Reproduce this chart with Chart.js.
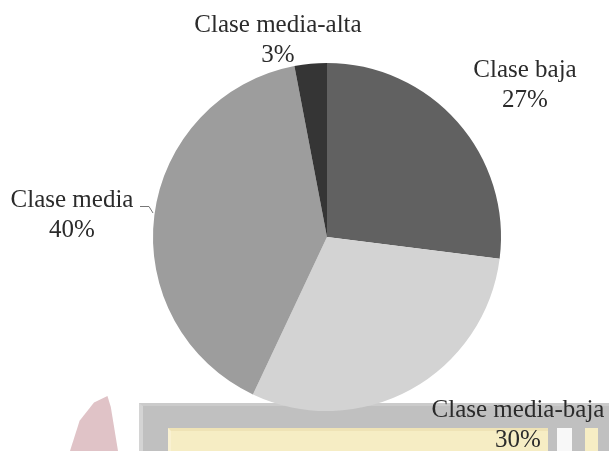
<!DOCTYPE html>
<html>
<head>
<meta charset="utf-8">
<script src="https://cdn.jsdelivr.net/npm/chart.js@4"></script>
<style>
  html, body { margin: 0; padding: 0; background: #fff; }
  #wrap { position: relative; width: 609px; height: 451px; overflow: hidden; }
  #wrap canvas { position: absolute; left: 0; top: 0; }
  .bg { position: absolute; }
</style>
</head>
<body>
<div id="wrap">
  <!-- scan artefacts under the pie -->
  <div class="bg" style="left:70px;top:396px;width:48px;height:55px;background:#e0c3c7;clip-path:polygon(0 100%,20% 45%,50% 12%,78% 0,85% 20%,100% 100%)"></div>
  <div class="bg" style="left:139px;top:403px;width:470px;height:48px;background:#c0c0c0;border-left:4px solid #d4d4d4;border-top:3px solid #cbcbcb;box-sizing:border-box"></div>
  <div class="bg" style="left:168px;top:428px;width:380px;height:23px;background:#f6edc4;border-left:3px solid #f9f1d2;border-top:3px solid #efe3b6;box-sizing:border-box"></div>
  <div class="bg" style="left:557px;top:428px;width:15px;height:23px;background:#f8f8f8"></div>
  <div class="bg" style="left:585px;top:428px;width:13px;height:23px;background:#f6edc4"></div>
  <canvas id="pie" width="609" height="451"></canvas>
</div>
<script>
const categories = ['Clase baja', 'Clase media-baja', 'Clase media', 'Clase media-alta'];
const shares = [27, 30, 40, 3];
const sliceColors = ['#616161', '#d3d3d3', '#9d9d9d', '#353535'];

// label anchors (centre x, baseline of first line)
const labelPos = [[525, 77], [518, 417], [72, 207], [278, 32]];

const outsideLabels = {
    id: 'outsideLabels',
    afterDraw(chart) {
        const ctx = chart.ctx;
        ctx.save();
        ctx.font = '25px "Liberation Serif", "DejaVu Serif", serif';
        ctx.fillStyle = '#2b2b2b';
        ctx.textAlign = 'center';
        ctx.textBaseline = 'alphabetic';
        chart.data.labels.forEach((lab, i) => {
            const [x, y] = labelPos[i];
            ctx.fillText(lab, x, y);
            ctx.fillText(chart.data.datasets[0].data[i] + '%', x, y + 30);
        });
        // small leader for Clase media
        ctx.strokeStyle = '#777';
        ctx.lineWidth = 1;
        ctx.beginPath();
        ctx.moveTo(140, 206.5); ctx.lineTo(149, 206.5); ctx.lineTo(153, 213);
        ctx.stroke();
        ctx.restore();
    }
};

new Chart(document.getElementById('pie'), {
    type: 'pie',
    data: {
        labels: categories,
        datasets: [{ data: shares, backgroundColor: sliceColors, borderWidth: 0 }]
    },
    options: {
        responsive: false,
        animation: false,
        layout: { padding: { left: 100, right: 55, top: 63, bottom: 40 } },
        plugins: { legend: { display: false }, tooltip: { enabled: false } }
    },
    plugins: [outsideLabels]
});
</script>
</body>
</html>
